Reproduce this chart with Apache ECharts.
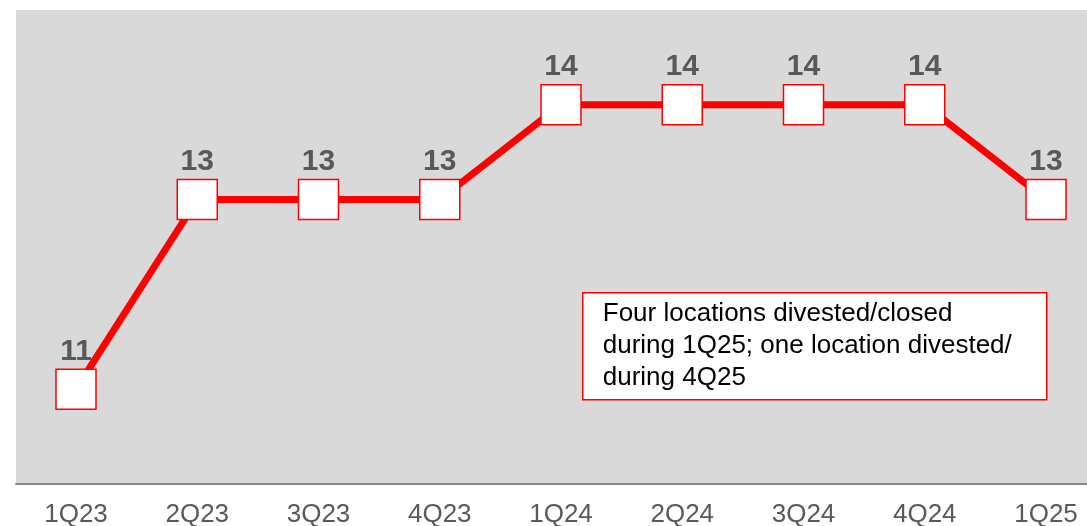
<!DOCTYPE html>
<html>
<head>
<meta charset="utf-8">
<script src="https://cdn.jsdelivr.net/npm/echarts@6/dist/echarts.min.js"></script>
<style>
  html, body { margin: 0; padding: 0; background: #ffffff; }
  #chart { width: 1087px; height: 526px; }
</style>
</head>
<body>
<div id="chart"></div>
<script>
// Location count by quarter
const quarters = ['1Q23', '2Q23', '3Q23', '4Q23', '1Q24', '2Q24', '3Q24', '4Q24', '1Q25'];
const locations = [11, 13, 13, 13, 14, 14, 14, 14, 13];
const noteLines = [
  'Four locations divested/closed',
  'during 1Q25; one location divested/',
  'during 4Q25'
];

const FONT = '"Liberation Sans", Arial, Helvetica, sans-serif';
const RED = '#ff0000';
const LABEL_GREY = '#595959';

const chart = echarts.init(document.getElementById('chart'), null, { renderer: 'canvas' });

chart.setOption({
  animation: false,
  backgroundColor: '#ffffff',
  grid: [
    // shaded plot panel with its baseline
    { left: 16, right: 0, top: 10, bottom: 42, show: true, backgroundColor: '#d9d9d9', borderWidth: 0,
      outerBoundsMode: 'none' },
    // data area
    { left: 76, right: 41, top: 10, bottom: 42, outerBoundsMode: 'none' }
  ],
  xAxis: [
    {
      gridIndex: 0, type: 'value', min: 0, max: 1,
      axisLine: { show: true, lineStyle: { color: '#878787', width: 2 } },
      axisTick: { show: false }, axisLabel: { show: false }, splitLine: { show: false }
    },
    {
      gridIndex: 1, type: 'category', data: quarters, boundaryGap: false,
      axisLine: { show: false }, axisTick: { show: false }, splitLine: { show: false },
      axisLabel: { color: LABEL_GREY, fontSize: 26, fontFamily: FONT, margin: 18, interval: 0 }
    }
  ],
  yAxis: [
    { gridIndex: 0, type: 'value', min: 0, max: 1, show: false },
    { gridIndex: 1, type: 'value', min: 10, max: 15, show: false }
  ],
  series: [
    {
      type: 'line',
      xAxisIndex: 1, yAxisIndex: 1,
      data: locations,
      symbol: 'rect',
      symbolSize: 40,
      lineStyle: { color: RED, width: 7 },
      itemStyle: { color: '#ffffff', borderColor: RED, borderWidth: 1.5 },
      label: {
        show: true, position: 'top', distance: 2,
        color: LABEL_GREY, fontSize: 30, fontWeight: 'bold', fontFamily: FONT
      },
      z: 3
    }
  ],
  graphic: [
    {
      type: 'group', left: 582, top: 292, z: 10,
      children: [
        {
          type: 'rect',
          shape: { x: 0, y: 0, width: 464, height: 107 },
          style: { fill: '#ffffff', stroke: RED, lineWidth: 1.5 }
        },
        {
          type: 'text', x: 20, y: 5,
          style: {
            text: noteLines.join('\n'),
            fill: '#000000', fontSize: 26, lineHeight: 32, fontFamily: FONT
          }
        }
      ]
    }
  ]
});
</script>
</body>
</html>
